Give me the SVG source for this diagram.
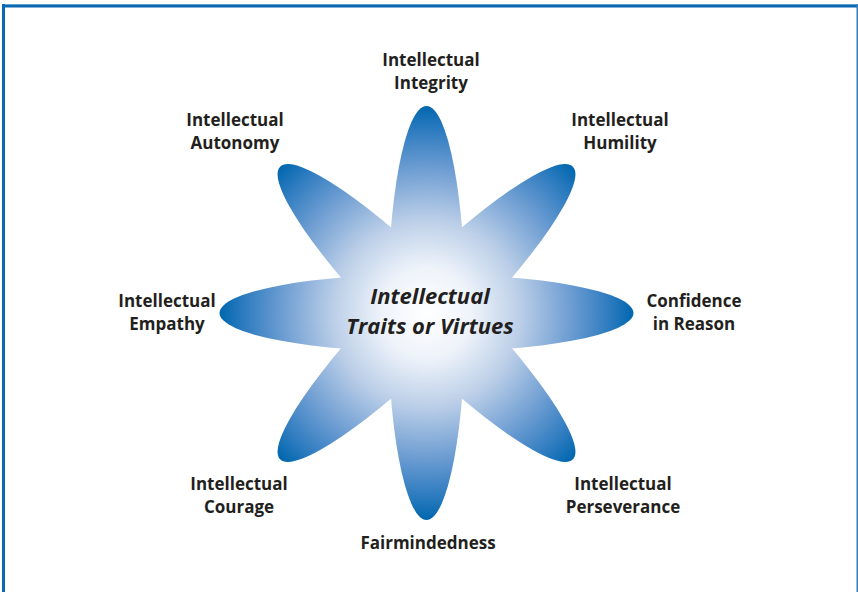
<svg xmlns="http://www.w3.org/2000/svg" width="858" height="592" viewBox="0 0 858 592">
<style>
.lbl{font-family:"Open Sans","Liberation Sans",sans-serif;font-weight:700;font-size:17px;fill:#231f20;text-anchor:middle}
.ctr{font-family:"Open Sans","Liberation Sans",sans-serif;font-weight:700;font-style:italic;font-size:22px;fill:#231f20;text-anchor:middle}
.petal{fill:url(#g)}
</style>
<defs>
<radialGradient id="g" gradientUnits="userSpaceOnUse" cx="426.5" cy="313" r="207">
<stop offset="0" stop-color="#ffffff"/>
<stop offset="0.22" stop-color="#eef3fa"/>
<stop offset="0.45" stop-color="#bccfe8"/>
<stop offset="0.7" stop-color="#6d9dd2"/>
<stop offset="0.88" stop-color="#2f7cc0"/>
<stop offset="1" stop-color="#0067ae"/>
</radialGradient>
</defs>
<rect width="858" height="592" fill="#ffffff"/>
<g id="frame">
<rect x="2" y="4" width="856" height="1" fill="#5ea2d2"/>
<rect x="2" y="5" width="856" height="2.5" fill="#0a69b0"/>
<rect x="2" y="4" width="3" height="588" fill="#0a69b0"/>
<rect x="856.5" y="4" width="1.5" height="588" fill="#3a7db8"/>
</g>
<g id="flower">
<ellipse class="petal" cx="426.5" cy="313" rx="207" ry="39"/>
<ellipse class="petal" cx="426.5" cy="313" rx="207" ry="39" transform="rotate(45 426.5 313)"/>
<ellipse class="petal" cx="426.5" cy="313" rx="207" ry="39" transform="rotate(90 426.5 313)"/>
<ellipse class="petal" cx="426.5" cy="313" rx="207" ry="39" transform="rotate(135 426.5 313)"/>
<circle class="petal" cx="426.5" cy="313" r="80"/>
</g>
<g id="center">
<text class="ctr" x="430" y="304">Intellectual</text>
<text class="ctr" x="430" y="334">Traits or Virtues</text>
</g>
<g id="integrity"><text class="lbl" x="431" y="66">Intellectual</text><text class="lbl" x="431" y="89">Integrity</text></g>
<g id="autonomy"><text class="lbl" x="235" y="126">Intellectual</text><text class="lbl" x="235" y="149">Autonomy</text></g>
<g id="humility"><text class="lbl" x="620" y="126">Intellectual</text><text class="lbl" x="620" y="149">Humility</text></g>
<g id="empathy"><text class="lbl" x="167" y="307">Intellectual</text><text class="lbl" x="167" y="330">Empathy</text></g>
<g id="confidence"><text class="lbl" x="694" y="307">Confidence</text><text class="lbl" x="694" y="330">in Reason</text></g>
<g id="courage"><text class="lbl" x="239" y="490">Intellectual</text><text class="lbl" x="239" y="513">Courage</text></g>
<g id="perseverance"><text class="lbl" x="623" y="490">Intellectual</text><text class="lbl" x="623" y="513">Perseverance</text></g>
<g id="fairmindedness"><text class="lbl" x="428" y="549">Fairmindedness</text></g>
</svg>
